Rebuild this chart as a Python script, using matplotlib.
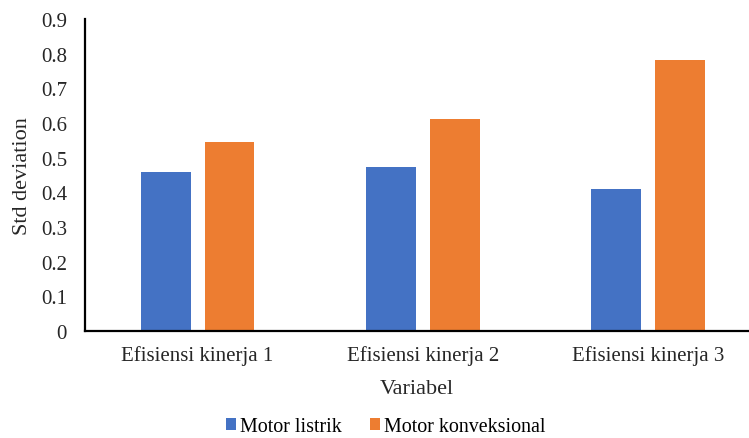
import numpy as np
import matplotlib.pyplot as plt

plt.rcParams['font.family'] = ['Liberation Serif', 'DejaVu Serif']

# Standard deviation per efficiency variable
categories = ["Efisiensi kinerja 1", "Efisiensi kinerja 2", "Efisiensi kinerja 3"]
motor_listrik = [0.459, 0.474, 0.410]
motor_konveksional = [0.544, 0.611, 0.782]

blue = "#4472C4"
orange = "#ED7D31"

fig = plt.figure(figsize=(7.49, 4.39), dpi=100)
ax = fig.add_axes([85/749, 1 - 332/439, (749 - 85)/749, (332 - 20)/439])

x = np.arange(len(categories))
w = 0.222
off = 0.142
ax.bar(x - off, motor_listrik, w, color=blue, label="Motor listrik")
ax.bar(x + off, motor_konveksional, w, color=orange, label="Motor konveksional")

ax.set_xlim(-0.5, 2.45)
ax.set_ylim(0, 0.9)
ax.set_yticks(np.arange(0, 0.91, 0.1))
ax.set_yticklabels(["0"] + ["%.1f" % v for v in np.arange(0.1, 0.91, 0.1)])
ax.set_xticks(x)
ax.set_xticklabels(categories)
ax.tick_params(axis='both', length=0, labelsize=15, colors="#262626")
ax.tick_params(axis='y', pad=13)
ax.tick_params(axis='x', pad=10)

for s in ["top", "right"]:
    ax.spines[s].set_visible(False)
for s in ["left", "bottom"]:
    ax.spines[s].set_linewidth(1.6)
    ax.spines[s].set_color("black")

ax.set_ylabel("Std deviation", fontsize=16, color="#262626", labelpad=6)
ax.set_xlabel("Variabel", fontsize=16, color="#262626", labelpad=10)

fig.legend(loc="lower center", bbox_to_anchor=(386/749, 0.004),
           ncol=2, frameon=False, fontsize=14.4, handlelength=0.5, handleheight=0.5,
           handletextpad=0.2, columnspacing=1.4, borderaxespad=0, borderpad=0)

fig.savefig("out.png", dpi=100)
